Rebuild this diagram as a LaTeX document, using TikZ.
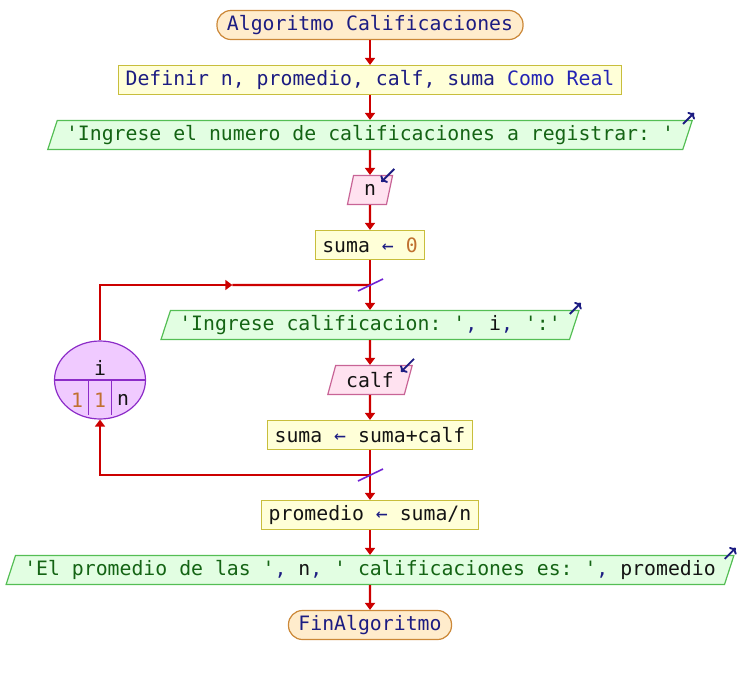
\documentclass[tikz,border=0pt]{standalone}
\usepackage{fontspec}
\setmonofont{DejaVu Sans Mono}
\usetikzlibrary{shapes.geometric, arrows.meta, positioning, calc}
\definecolor{flowred}{RGB}{204,0,0}
\definecolor{navytxt}{RGB}{28,28,130}
\definecolor{kwblue}{RGB}{36,36,180}
\definecolor{strgreen}{RGB}{20,100,20}
\definecolor{numbrown}{RGB}{192,112,48}
\definecolor{varblack}{RGB}{20,20,20}
\definecolor{ssfill}{RGB}{255,236,204}
\definecolor{ssborder}{RGB}{204,136,56}
\definecolor{prfill}{RGB}{255,255,216}
\definecolor{prborder}{RGB}{200,190,60}
\definecolor{outfill}{RGB}{226,254,226}
\definecolor{outborder}{RGB}{84,190,84}
\definecolor{infill}{RGB}{255,226,240}
\definecolor{inborder}{RGB}{200,100,150}
\definecolor{loopfill}{RGB}{240,202,255}
\definecolor{loopborder}{RGB}{140,44,200}
\newcommand*{\psstr}[1]{\textcolor{strgreen}{#1}}
\newcommand*{\psop}[1]{\textcolor{navytxt}{#1}}
\newcommand*{\psnum}[1]{\textcolor{numbrown}{#1}}
\newcommand*{\pskw}[1]{\textcolor{kwblue}{#1}}
\tikzset{
    startstop/.style = {draw=ssborder, fill=ssfill, rectangle, rounded corners=14pt, minimum height=29pt, inner xsep=10pt, inner ysep=0pt, text=navytxt},
    process/.style   = {draw=prborder, fill=prfill, rectangle, minimum height=29pt, inner xsep=7pt, inner ysep=0pt},
    output/.style    = {draw=outborder, fill=outfill, trapezium, trapezium stretches=true, trapezium left angle=68, trapezium right angle=112, minimum height=29pt, inner xsep=8.8pt, inner ysep=2pt},
    input/.style     = {draw=inborder, fill=infill, trapezium, trapezium stretches=true, trapezium left angle=68, trapezium right angle=112, minimum height=29pt, inner xsep=10.5pt, inner ysep=2pt},
    loopnode/.style  = {draw=loopborder, fill=loopfill, ellipse, minimum width=91pt, minimum height=78pt, inner sep=0pt},
    flow/.style      = {-{Triangle[length=7pt, width=10pt]}, draw=flowred, line width=2.2pt},
    line/.style      = {draw=flowred, line width=2.2pt},
    icon/.style      = {-{To[length=5pt, width=10pt]}, draw=navytxt, line width=1.9pt},
    slash/.style     = {draw=loopborder!80!blue, line width=1.6pt}
}
\begin{document}
\begin{tikzpicture}[x=1pt, y=-1pt, every node/.style={font=\ttfamily\fontsize{19.8}{22}\selectfont, text=varblack, line width=1.2pt}]
	\useasboundingbox (0,0) rectangle (740,675);
	\node (start) [startstop] at (370,25)  {Algoritmo Calificaciones};
	\node (define)[process]   at (370,80)  {\psop{Definir n, promedio, calf, suma} \pskw{Como Real}};
	\node (out1)  [output]    at (370,135) {\psstr{'Ingrese el numero de calificaciones a registrar: '}};
	\node (readn) [input]     at (370,190) {n};
	\node (sum0)  [process]   at (370,245) {suma \psop{←} \psnum{0}};
	\node (out2)  [output]    at (370,325) {\psstr{'Ingrese calificacion: '}\psop{, }i\psop{, }\psstr{':'}};
	\node (calf)  [input]     at (370,380) {calf};
	\node (sum1)  [process]   at (370,435) {suma \psop{←} suma+calf};
	\node (mean)  [process]   at (370,515) {promedio \psop{←} suma/n};
	\node (out3)  [output]    at (370,570) {\psstr{'El promedio de las '}\psop{, }n\psop{, }\psstr{' calificaciones es: '}\psop{, }promedio};
	\node (stop)  [startstop] at (370,625) {FinAlgoritmo};

	% loop for i
	\node (loop)  [loopnode] at (100,380) {};
	\node (loopvar) at ([yshift=12pt]loop.center) {i};
	\node (from)  at ([shift={(-23pt,-20pt)}]loop.center) {\psnum{1}};
	\node (by)    at ([shift={(0pt,-20pt)}]loop.center) {\psnum{1}};
	\node (upto)  at ([shift={(23pt,-20pt)}]loop.center) {n};
	\draw [loopborder, line width=1.2pt] (loop.west) -- (loop.east);
	\draw [loopborder, line width=1.2pt] ([xshift=-11.5pt]loop.center) -- ([shift={(-11.5pt,-35pt)}]loop.center);
	\draw [loopborder, line width=1.2pt] ([xshift=11.5pt]loop.center) -- ([shift={(11.5pt,-35pt)}]loop.center);

	\coordinate (jtop) at ($(sum0.south)!0.5!(out2.north)$);
	\coordinate (jbot) at ($(sum1.south)!0.5!(mean.north)$);
	\coordinate (ltop) at (loop.north |- jtop);
	\coordinate (lmid) at ($(ltop)!0.49!(jtop)$);

	\draw [flow] (start) -- (define);
	\draw [flow] (define) -- (out1);
	\draw [flow] (out1) -- (readn);
	\draw [flow] (readn) -- (sum0);
	\draw [flow] (sum0) -- (out2);
	\draw [flow] (out2) -- (calf);
	\draw [flow] (calf) -- (sum1);
	\draw [flow] (sum1) -- (mean);
	\draw [flow] (mean) -- (out3);
	\draw [flow] (out3) -- (stop);
	\draw [flow] (loop.north) |- (lmid);
	\draw [line] (lmid) -- (jtop);
	\draw [flow] (jbot) -| (loop.south);
	\draw [slash] ([shift={(-12pt,-6pt)}]jtop) -- ([shift={(13pt,6pt)}]jtop);
	\draw [slash] ([shift={(-12pt,-6pt)}]jbot) -- ([shift={(13pt,6pt)}]jbot);

	% in/out marks
	\draw [icon] ([shift={(-10pt,-4pt)}]out1.top right corner) -- ([shift={(1pt,7pt)}]out1.top right corner);
	\draw [icon] ([shift={(-10pt,-4pt)}]out2.top right corner) -- ([shift={(1pt,7pt)}]out2.top right corner);
	\draw [icon] ([shift={(-10pt,-4pt)}]out3.top right corner) -- ([shift={(1pt,7pt)}]out3.top right corner);
	\draw [icon] ([shift={(1pt,6pt)}]readn.top right corner) -- ([shift={(-12pt,-7pt)}]readn.top right corner);
	\draw [icon] ([shift={(1pt,6pt)}]calf.top right corner) -- ([shift={(-12pt,-7pt)}]calf.top right corner);
\end{tikzpicture}
\end{document}
